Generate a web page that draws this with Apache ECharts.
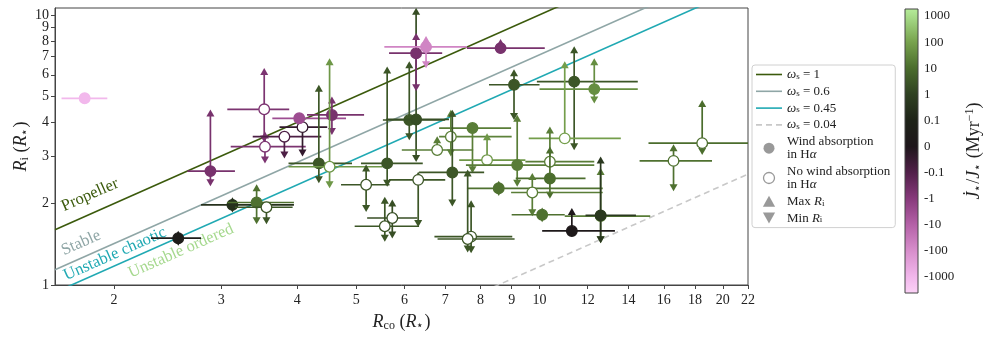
<!DOCTYPE html>
<html>
<head>
<meta charset="utf-8">
<script src="https://cdn.jsdelivr.net/npm/echarts@6/dist/echarts.min.js"></script>
<style>
html, body { margin: 0; padding: 0; background: #fff; }
#chart { width: 996px; height: 339px; }
</style>
</head>
<body>
<div id="chart"></div>
<script>
// corotation radius R_co (R*) and its range
var rco   = [1.79, 2.88, 3.53, 3.54, 3.81, 4.08, 4.03, 4.56, 4.34, 4.52, 5.62, 6.11, 6.27, 6.27, 6.51, 8.63, 9.08, 11.4, 12.3, 11.0, 7.76, 7.15, 6.79, 7.19, 8.2, 9.19, 10.4, 10.4, 8.57, 9.73, 10.1, 12.6, 12.6, 11.3, 5.19, 5.57, 5.73, 6.32, 7.72, 7.62, 18.5, 16.6, 3.13, 3.43, 3.56, 2.55];
var rcoLo = [1.64, 2.64, 3.07, 3.11, 3.38, 3.74, 3.64, 4.15, 3.87, 3.87, 5.09, 5.53, 5.6, 5.66, 5.56, 7.6, 8.26, 9.9, 10.0, 9.6, 6.84, 6.84, 5.94, 6.34, 7.38, 7.57, 9.48, 9.14, 7.6, 8.98, 9.0, 11.0, 11.9, 10.1, 4.72, 4.97, 5.21, 5.66, 6.72, 6.8, 15.1, 14.6, 2.78, 3.07, 3.16, 2.30];
var rcoHi = [1.95, 3.16, 3.88, 4.13, 4.38, 4.48, 4.81, 5.15, 4.92, 5.52, 6.43, 7.0, 7.1, 6.92, 7.6, 10.2, 10.0, 14.5, 14.5, 13.6, 8.98, 9.0, 7.78, 8.11, 9.48, 12.3, 12.3, 11.9, 12.7, 12.7, 11.0, 15.2, 14.4, 13.3, 5.67, 6.34, 6.3, 7.0, 9.02, 9.1, 22, 19.2, 3.95, 3.95, 3.93, 2.78];
// inner disc radius R_i (R*), with min / max limits (null = no arrow)
var ri    = [4.91, 2.64, 4.47, 3.25, 3.54, 3.84, 4.14, 4.26, 2.82, 2.74, 2.82, 4.08, 4.1, 7.21, 7.61, 7.53, 5.51, 5.66, 5.31, 3.49, 3.81, 3.54, 3.16, 2.61, 2.90, 2.78, 2.86, 2.48, 2.28, 2.20, 1.82, 1.80, 1.81, 1.585, 2.35, 1.65, 1.77, 2.45, 1.51, 1.48, 3.35, 2.88, 1.98, 2.02, 1.94, 1.49];
var riMin = [null, 2.39, 3.47, 2.90, 3.03, 3.08, null, 3.70, 2.45, 2.35, 2.38, 3.54, 2.94, 5.37, 6.53, null, 4.2, 3.25, 4.84, null, 2.67, 3.08, null, 2.01, null, 2.38, null, 2.15, 2.20, 1.85, 1.76, 1.47, 1.47, null, 1.92, 1.49, 1.53, 1.69, 1.35, 1.36, 3.12, 2.29, 1.91, 1.73, 1.73, 1.44];
var riMax = [null, 4.33, 6.17, 3.59, null, null, null, 4.84, 5.35, 6.71, 6.25, 6.53, 10.3, 8.31, 8.1, 7.9, 6.1, 7.42, 6.71, 6.53, null, 4.32, 3.45, 4.32, 3.54, 4.14, 3.75, 3.16, 2.36, 2.52, 1.88, 2.63, 2.90, 1.87, 2.71, 2.06, 2.01, 2.55, 2.0, 2.6, 4.7, 3.22, 2.05, 2.29, null, 1.54];
// spin evolution J*dot / J* (Myr^-1)
var jdot  = [-1000, -0.5, -0.6, -0.6, -0.09, -0.04, -3, -0.5, 3, 60, 3, 3, 2, -0.5, -60, -0.5, 3, 3, 40, 80, 20, 25, 20, 3, 60, 20, 20, 10, 12, 20, 12, 20, 0.5, 0.02, 3, 3, 2, 3, 3, 3, 10, 12, 0.3, 12, 3, 0.05];
// 1 = wind absorption in H-alpha (filled), 0 = none (hollow)
var wind  = [1, 1, 0, 0, 0, 0, 1, 1, 1, 0, 1, 1, 1, 1, 1, 1, 1, 1, 1, 0, 1, 0, 0, 1, 0, 1, 0, 1, 1, 0, 1, 1, 1, 1, 0, 0, 0, 0, 0, 0, 0, 0, 1, 1, 0, 1];

var omegas  = [1, 0.6, 0.45, 0.04];
var xTicks  = [2, 3, 4, 5, 6, 7, 8, 9, 10, 12, 14, 16, 18, 20, 22];
var yTicks  = [1, 2, 3, 4, 5, 6, 7, 8, 9];
var yTopTick = [10];
var cbTicks = [-1000, -100, -10, -1, -0.1, 0, 0.1, 1, 10, 100, 1000];

var lx = Math.log10;
var xMin = 1.6, xMax = 22, yMin = 1, yMax = 10.6;
var cbMin = -5.61, cbMax = 5.27;
var serif = 'Liberation Serif';

// symmetric log used by the colour bar
function sl(v) {
    if (Math.abs(v) < 0.1) return v / 0.1;
    return Math.sign(v) * (lx(Math.abs(v) / 0.1) + 1);
}

// colour map (position on the colour bar -> colour)
var cbStops = [
    [-5.61, '#fbd2f6'], [-5, '#f2b8ec'], [-4, '#d88fcc'], [-3, '#b562a8'],
    [-2, '#883a7c'], [-1, '#52204a'], [0, '#1e161b'], [1, '#1e2318'],
    [2, '#2f4122'], [3, '#4b6d2d'], [4, '#78a34e'], [5, '#a9de8b'], [5.27, '#b6ec9a']
];
function hex(c) { return [parseInt(c.substr(1, 2), 16), parseInt(c.substr(3, 2), 16), parseInt(c.substr(5, 2), 16)]; }
function cmap(c) {
    if (c <= cbStops[0][0]) return cbStops[0][1];
    for (var k = 1; k < cbStops.length; k++) {
        if (c <= cbStops[k][0]) {
            var t = (c - cbStops[k - 1][0]) / (cbStops[k][0] - cbStops[k - 1][0]);
            var a = hex(cbStops[k - 1][1]), b = hex(cbStops[k][1]);
            return 'rgb(' + [0, 1, 2].map(function (j) { return Math.round(a[j] + (b[j] - a[j]) * t); }).join(',') + ')';
        }
    }
    return cbStops[cbStops.length - 1][1];
}

var myChart = echarts.init(document.getElementById('chart'));

// one error-bar point: horizontal range, limit arrows, marker
function renderPoint(params, api) {
    var i = params.dataIndex;
    var col = cmap(sl(jdot[i]));
    var p = api.coord([lx(rco[i]), lx(ri[i])]);
    var a = api.coord([lx(rcoLo[i]), lx(ri[i])]);
    var b = api.coord([lx(rcoHi[i]), lx(ri[i])]);
    var kids = [{ type: 'line', shape: { x1: a[0], y1: a[1], x2: b[0], y2: b[1] }, style: { stroke: col, lineWidth: 1.7 } }];
    var top = riMax[i] != null ? api.coord([lx(rco[i]), lx(riMax[i])])[1] : p[1];
    var bot = riMin[i] != null ? api.coord([lx(rco[i]), lx(riMin[i])])[1] : p[1];
    if (top !== bot) {
        kids.push({ type: 'line', shape: { x1: p[0], y1: top, x2: p[0], y2: bot }, style: { stroke: col, lineWidth: 1.7 } });
    }
    if (riMax[i] != null) {
        kids.push({ type: 'polygon', shape: { points: [[p[0], top - 3.5], [p[0] - 4, top + 3.5], [p[0] + 4, top + 3.5]] }, style: { fill: col } });
    }
    if (riMin[i] != null) {
        kids.push({ type: 'polygon', shape: { points: [[p[0], bot + 3.5], [p[0] - 4, bot - 3.5], [p[0] + 4, bot - 3.5]] }, style: { fill: col } });
    }
    kids.push({ type: 'circle', shape: { cx: p[0], cy: p[1], r: 5.3 }, style: { fill: wind[i] ? col : '#fff', stroke: col, lineWidth: 1.3 } });
    return { type: 'group', children: kids };
}

// colour bar drawn as a gradient rectangle
function renderBar(params, api) {
    var p0 = api.coord([0, cbMax]);
    var p1 = api.coord([1, cbMin]);
    var stops = cbStops.map(function (s) { return { offset: (cbMax - s[0]) / (cbMax - cbMin), color: s[1] }; });
    return {
        type: 'rect',
        shape: { x: p0[0], y: p0[1], width: p1[0] - p0[0], height: p1[1] - p0[1] },
        style: { fill: new echarts.graphic.LinearGradient(0, 0, 0, 1, stops), stroke: '#444', lineWidth: 1 }
    };
}

var lineColors = ['#3b5a0c', '#8fa6a6', '#20a9b3', '#c8c8c8'];
var lineNames = ['w1', 'w06', 'w045', 'w004'];
var lineIcons = [
    'path://M0,0H26V1.6H0Z', 'path://M0,0H26V1.6H0Z', 'path://M0,0H26V1.6H0Z',
    'path://M0,0H6V1.6H0ZM10,0H16V1.6H10ZM20,0H26V1.6H20Z'
];
var legendText = {
    w1: '{i|ω}{sub|s} = 1',
    w06: '{i|ω}{sub|s} = 0.6',
    w045: '{i|ω}{sub|s} = 0.45',
    w004: '{i|ω}{sub|s} = 0.04',
    wind: 'Wind absorption\nin H{i|α}',
    nowind: 'No wind absorption\nin H{i|α}',
    max: 'Max {i|R}{sub|i}',
    min: 'Min {i|R}{sub|i}'
};

var series = [];
omegas.forEach(function (w, k) {
    var f = (2 / 3) * lx(w);   // R_i = omega^(2/3) R_co
    series.push({
        name: lineNames[k],
        type: 'line',
        symbol: 'none',
        lineStyle: { color: lineColors[k], width: 1.6, type: k === 3 ? [6, 4] : 'solid' },
        itemStyle: { color: lineColors[k] },
        data: [[lx(xMin), lx(xMin) + f], [lx(xMax), lx(xMax) + f]],
        z: 1
    });
});
series.push({
    type: 'custom',
    renderItem: renderPoint,
    data: rco.map(function (v, i) { return [lx(v), lx(ri[i])]; }),
    clip: true,
    z: 3
});
['wind', 'nowind', 'max', 'min'].forEach(function (n) {
    series.push({ name: n, type: 'scatter', data: [], itemStyle: { color: '#808080' } });
});
series.push({
    type: 'custom',
    xAxisIndex: 1,
    yAxisIndex: 1,
    renderItem: renderBar,
    data: [[0, 0]]
});

var labelStyle = { fontFamily: serif, fontSize: 14, color: '#222' };
var nameRich = {
    i: { fontFamily: serif, fontStyle: 'italic', fontSize: 18, color: '#222' },
    sub: { fontFamily: serif, fontSize: 12, lineHeight: 8, verticalAlign: 'bottom', color: '#222' },
    sup: { fontFamily: serif, fontSize: 12, lineHeight: 8, verticalAlign: 'top', color: '#222' }
};
function powLabel(v) { return String(Math.round(Math.pow(10, v))); }

var legendData = lineNames.map(function (n, k) { return { name: n, icon: lineIcons[k] }; });
legendData.push(
    { name: 'wind', icon: 'circle' },
    { name: 'nowind', icon: 'circle', itemStyle: { color: '#fff', borderColor: '#808080', borderWidth: 1.3 } },
    { name: 'max', icon: 'path://M5,0L10,9L0,9Z' },
    { name: 'min', icon: 'path://M0,0L10,0L5,9Z' }
);

var option = {
    animation: false,
    grid: [
        { left: 55, right: 248, top: 8, bottom: 54, show: true, borderColor: '#444', borderWidth: 1, containLabel: false, outerBoundsMode: 'none' },
        { left: 905, width: 13, top: 9, height: 284, containLabel: false, outerBoundsMode: 'none' }
    ],
    xAxis: [{
        type: 'value',
        min: lx(xMin),
        max: lx(xMax),
        splitLine: { show: false },
        axisLine: { lineStyle: { color: '#444' } },
        axisTick: { customValues: xTicks.map(lx), length: 4, lineStyle: { color: '#444' } },
        axisLabel: Object.assign({ customValues: xTicks.map(lx), margin: 8, formatter: powLabel }, labelStyle),
        name: '{i|R}{sub|co} ({i|R}{sub|⋆})',
        nameLocation: 'middle',
        nameGap: 24,
        nameTextStyle: { fontFamily: serif, fontSize: 18, lineHeight: 20, color: '#222', rich: nameRich }
    }, {
        gridIndex: 1, type: 'value', min: 0, max: 1, show: false
    }],
    yAxis: [{
        type: 'value',
        min: lx(yMin),
        max: lx(yMax),
        splitLine: { show: false },
        axisLine: { lineStyle: { color: '#444' } },
        axisTick: { customValues: yTicks.map(lx), length: 4, lineStyle: { color: '#444' } },
        axisLabel: Object.assign({ customValues: yTicks.map(lx), margin: 6, formatter: powLabel }, labelStyle),
        name: '{i|R}{sub|i} ({i|R}{sub|⋆})',
        nameLocation: 'middle',
        nameRotate: 90,
        nameGap: 22,
        nameTextStyle: { fontFamily: serif, fontSize: 18, lineHeight: 20, color: '#222', rich: nameRich }
    }, {
        gridIndex: 1,
        type: 'value',
        position: 'right',
        min: cbMin,
        max: cbMax,
        splitLine: { show: false },
        axisLine: { show: false },
        axisTick: { customValues: cbTicks.map(sl), length: 4, lineStyle: { color: '#444' } },
        axisLabel: Object.assign({
            customValues: cbTicks.map(sl),
            margin: 6,
            formatter: function (v) {
                for (var k = 0; k < cbTicks.length; k++) {
                    if (Math.abs(sl(cbTicks[k]) - v) < 1e-6) return String(cbTicks[k]);
                }
                return '';
            }
        }, labelStyle, { fontSize: 13 }),
        name: '{i|J̇}{sub|⋆}/{i|J}{sub|⋆} (Myr{sup|−1})',
        nameLocation: 'middle',
        nameRotate: 90,
        nameGap: 46,
        nameTextStyle: { fontFamily: serif, fontSize: 18, lineHeight: 20, color: '#222', rich: nameRich }
    }, {
        // the "10" tick sits on its own axis so it is not dropped next to "9"
        gridIndex: 0,
        type: 'value',
        position: 'left',
        min: lx(yMin),
        max: lx(yMax),
        splitLine: { show: false },
        axisLine: { show: false },
        axisTick: { customValues: yTopTick.map(lx), length: 4, lineStyle: { color: '#444' } },
        axisLabel: Object.assign({ customValues: yTopTick.map(lx), margin: 6, formatter: powLabel }, labelStyle)
    }],
    legend: {
        orient: 'vertical',
        left: 752,
        top: 65,
        padding: [3, 5, 3, 4],
        itemGap: 3.8,
        itemWidth: 26,
        itemHeight: 11,
        selectedMode: false,
        borderColor: '#d0d0d0',
        borderWidth: 1,
        borderRadius: 3,
        backgroundColor: '#fff',
        data: legendData,
        formatter: function (name) { return legendText[name]; },
        textStyle: {
            fontFamily: serif, fontSize: 13, lineHeight: 13, color: '#222',
            rich: {
                i: { fontFamily: serif, fontStyle: 'italic', fontSize: 13, color: '#222' },
                sub: { fontFamily: serif, fontSize: 9, lineHeight: 5, verticalAlign: 'bottom', color: '#222' }
            }
        }
    },
    graphic: [
        { type: 'text', x: 90, y: 195, rotation: Math.atan(270 / 610), style: { text: 'Propeller', fill: '#3b5a0c', font: '16.5px "Liberation Serif"', textAlign: 'center', textVerticalAlign: 'middle' } },
        { type: 'text', x: 81, y: 243, rotation: Math.atan(270 / 610), style: { text: 'Stable', fill: '#8fa6a6', font: '16.5px "Liberation Serif"', textAlign: 'center', textVerticalAlign: 'middle' } },
        { type: 'text', x: 115, y: 254, rotation: Math.atan(270 / 610), style: { text: 'Unstable chaotic', fill: '#20a9b3', font: '16.5px "Liberation Serif"', textAlign: 'center', textVerticalAlign: 'middle' } },
        { type: 'text', x: 181, y: 251, rotation: Math.atan(270 / 610), style: { text: 'Unstable ordered', fill: '#a6d98f', font: '16.5px "Liberation Serif"', textAlign: 'center', textVerticalAlign: 'middle' } }
    ],
    series: series
};

window.addEventListener('resize', function () {
    myChart.resize();
});

myChart.setOption(option);
</script>
</body>
</html>
